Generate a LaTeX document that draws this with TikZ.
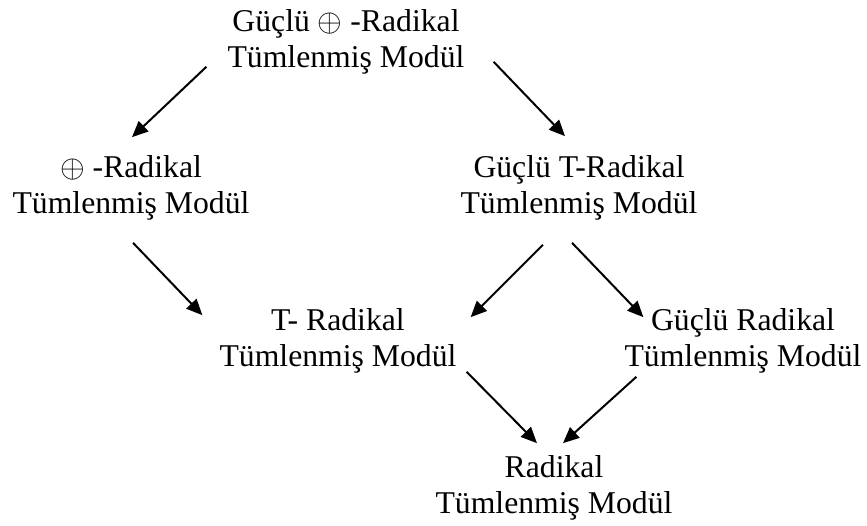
\documentclass[tikz,border=0pt]{standalone}
\usepackage{fix-cm}
\usepackage{fontspec}
\setmainfont{Liberation Serif}
\usepackage{tikz}
\usetikzlibrary{positioning,arrows.meta}

\begin{document}
\begin{tikzpicture}[x=1pt,y=1pt,
    every node/.style={align=center,inner sep=0pt,font=\fontsize{31.7}{36.5}\selectfont},
    arr/.style={-{Triangle[length=16pt,width=14pt]},line width=2pt}]
    \useasboundingbox (0,0) rectangle (867,526);
    \node (top)  at (346,484) {Güçlü $\oplus$ -Radikal\\Tümlenmiş Modül};
    \node (left) at (131,338) {$\oplus$ -Radikal\\Tümlenmiş Modül};
    \node (gtr)  at (579,338) {Güçlü T-Radikal\\Tümlenmiş Modül};
    \node (trad) at (338,185) {T- Radikal\\Tümlenmiş Modül};
    \node (gr)   at (743,185) {Güçlü Radikal\\Tümlenmiş Modül};
    \node (rad)  at (554,38)  {Radikal\\Tümlenmiş Modül};
    \draw[arr] ([shift={(-21,8)}]top.south west) -- ([shift={(1,18)}]left.north);
    \draw[arr] ([shift={(29,13)}]top.south east) -- ([shift={(-14,19)}]gtr.north);
    \draw[arr] ([shift={(2,-22)}]left.south) -- ([shift={(-17,-7)}]trad.north west);
    \draw[arr] ([shift={(-36,-24)}]gtr.south) -- ([shift={(14,-9)}]trad.north east);
    \draw[arr] ([shift={(-7,-22)}]gtr.south) -- ([shift={(19,-9)}]gr.north west);
    \draw[arr] ([shift={(10,2)}]trad.south east) -- ([shift={(-17,12)}]rad.north);
    \draw[arr] ([shift={(12,-3)}]gr.south west) -- ([shift={(9,12)}]rad.north);
  \end{tikzpicture}
\end{document}
